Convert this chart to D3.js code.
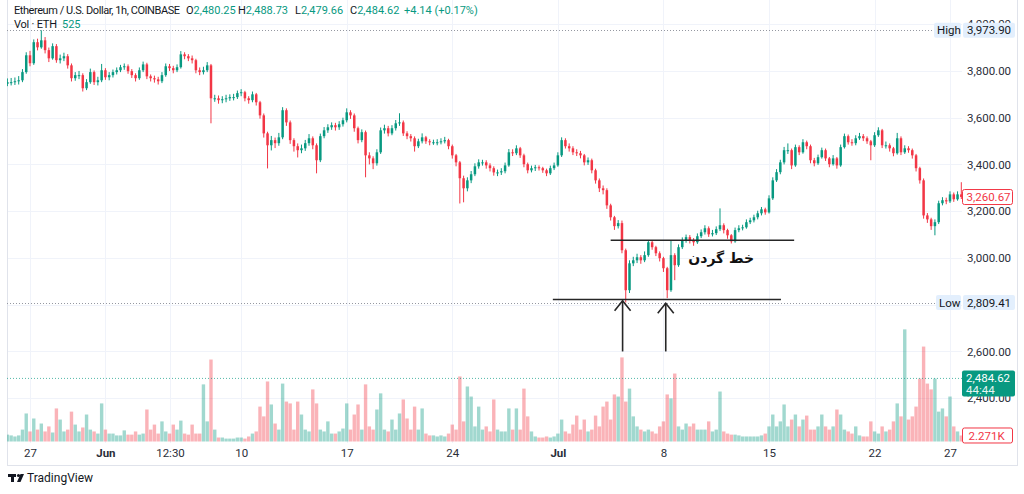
<!DOCTYPE html>
<html><head><meta charset="utf-8">
<script src="https://cdn.jsdelivr.net/npm/d3@7"></script>
<style>
body{margin:0;background:#fff;}
svg{display:block;font-family:Roboto,"Open Sans","DejaVu Sans",sans-serif;}
</style>
</head><body>
<svg id="c" width="1024" height="494"></svg>
<script>
// ---------- DATA (6-hour candles) ----------
const startTime = "2024-05-25T12:00";
const stepHours = 6;
const firstOpen = 3745;
const closes = [3752,3752,3756,3760,3795,3867,3833,3923,3901,3931,
3889,3854,3906,3846,3854,3863,3824,3769,3782,3782,
3726,3752,3795,3752,3760,3803,3773,3782,3795,3803,
3816,3820,3799,3782,3769,3803,3828,3777,3769,3764,
3756,3782,3820,3812,3803,3816,3871,3863,3854,3846,
3803,3795,3803,3824,3683,3683,3675,3679,3683,3688,
3688,3705,3709,3683,3675,3700,3666,3610,3533,3482,
3504,3491,3516,3632,3580,3504,3478,3461,3469,3491,
3512,3482,3418,3521,3546,3559,3568,3559,3572,3589,
3623,3610,3555,3504,3538,3439,3426,3405,3452,3546,
3555,3533,3555,3576,3580,3533,3521,3512,3478,3499,
3516,3499,3495,3495,3495,3499,3504,3478,3439,3409,
3341,3298,3332,3358,3392,3409,3409,3396,3384,3366,
3366,3371,3396,3452,3448,3469,3439,3401,3375,3384,
3388,3384,3375,3362,3384,3396,3439,3504,3478,3469,
3452,3448,3439,3409,3418,3375,3332,3298,3290,3225,
3174,3136,3149,3033,2862,2977,2990,3003,2990,3012,
3067,3046,3020,2999,2956,2862,3012,2969,3046,3076,
3089,3076,3067,3093,3110,3127,3101,3106,3123,3140,
3119,3097,3071,3119,3127,3131,3153,3161,3174,3191,
3208,3195,3255,3332,3367,3409,3461,3461,3396,3474,
3452,3495,3478,3418,3405,3431,3461,3426,3401,3426,
3396,3474,3521,3495,3491,3512,3521,3512,3499,3482,
3525,3546,3482,3482,3469,3448,3512,3452,3469,3461,
3439,3384,3332,3182,3165,3136,3153,3234,3247,3242,
3272,3251,3272,3261];
const highs = [3768,3770,3772,3778,3808,3880,3886,3935,3938,3974,
3945,3900,3918,3915,3870,3878,3872,3832,3795,3800,
3790,3765,3810,3802,3775,3830,3812,3795,3806,3815,
3826,3832,3828,3808,3790,3815,3840,3835,3785,3780,
3775,3795,3832,3830,3822,3828,3885,3880,3872,3866,
3852,3815,3818,3838,3830,3698,3695,3692,3698,3700,
3702,3716,3722,3715,3692,3712,3706,3672,3618,3540,
3522,3515,3535,3645,3640,3588,3512,3490,3485,3505,
3530,3520,3490,3532,3560,3572,3580,3578,3585,3600,
3640,3632,3618,3562,3550,3545,3452,3435,3465,3558,
3570,3565,3568,3590,3619,3588,3542,3530,3520,3510,
3533,3522,3508,3506,3508,3512,3518,3510,3485,3445,
3415,3352,3345,3372,3405,3422,3420,3418,3405,3392,
3378,3384,3408,3466,3465,3482,3475,3446,3408,3395,
3398,3396,3390,3382,3395,3408,3452,3516,3512,3490,
3478,3465,3458,3445,3430,3425,3382,3340,3310,3298,
3232,3180,3162,3160,3040,2990,3005,3018,3012,3028,
3076,3075,3052,3028,3005,2962,3076,3020,3058,3088,
3100,3098,3085,3105,3122,3140,3135,3120,3135,3212,
3148,3125,3102,3130,3140,3142,3165,3172,3185,3202,
3218,3215,3268,3345,3380,3420,3475,3490,3468,3485,
3482,3508,3502,3485,3428,3442,3472,3468,3432,3440,
3432,3485,3532,3528,3508,3525,3535,3530,3520,3505,
3538,3559,3552,3498,3490,3475,3535,3520,3482,3478,
3468,3445,3390,3340,3192,3172,3165,3245,3260,3258,
3285,3280,3285,3324];
const lows = [3735,3738,3740,3742,3752,3788,3820,3826,3888,3895,
3875,3838,3848,3835,3832,3842,3810,3755,3758,3765,
3712,3718,3745,3740,3738,3752,3762,3760,3772,3785,
3795,3805,3788,3770,3755,3762,3795,3765,3755,3750,
3742,3748,3775,3800,3790,3795,3810,3850,3842,3832,
3790,3782,3785,3795,3576,3668,3660,3662,3666,3672,
3674,3680,3692,3670,3660,3666,3652,3596,3515,3383,
3460,3470,3480,3508,3565,3488,3455,3430,3448,3458,
3480,3465,3362,3410,3512,3535,3548,3545,3548,3562,
3580,3595,3540,3490,3495,3345,3400,3380,3395,3445,
3532,3520,3525,3545,3565,3522,3508,3498,3455,3470,
3490,3488,3482,3484,3482,3486,3490,3465,3425,3392,
3233,3238,3285,3320,3350,3382,3395,3382,3370,3352,
3350,3355,3362,3390,3436,3440,3428,3388,3362,3366,
3372,3374,3364,3350,3355,3376,3390,3432,3468,3455,
3440,3436,3426,3396,3398,3362,3318,3282,3272,3210,
3160,3120,3126,3020,2809.41,2850,2965,2978,2975,2982,
3005,3035,3008,2985,2940,2828,2855,2905,2962,3038,
3065,3062,3052,3060,3085,3100,3090,3092,3098,3115,
3105,3082,3062,3065,3110,3118,3125,3145,3152,3165,
3182,3185,3190,3248,3325,3358,3400,3445,3380,3390,
3440,3446,3465,3405,3392,3398,3425,3415,3388,3395,
3382,3390,3468,3485,3480,3482,3505,3500,3488,3418,
3475,3518,3470,3468,3455,3435,3442,3440,3445,3450,
3425,3370,3318,3168,3150,3120,3097,3145,3225,3230,
3235,3240,3245,3252];
// volume, thousands of ETH
const volumesK = [2.6,2.3,1.9,2.3,4.5,10.6,3.8,8.7,4.5,6.8,
3.8,5.7,3.4,12.5,8.3,3.8,4.5,11.3,6.4,3.8,
5.3,10.2,4.5,3.8,3.0,14.4,4.5,3.0,3.0,2.3,
2.3,4.2,2.6,2.6,3.8,2.6,3.0,12.1,4.5,6.4,
3.0,7.6,3.8,3.0,6.4,4.5,7.9,3.0,2.6,6.4,
3.0,3.0,21.6,7.6,31.0,4.5,1.5,1.5,1.1,1.1,
1.1,1.5,1.5,1.1,1.9,3.0,3.8,13.2,9.5,22.7,
14.0,6.8,4.5,21.9,15.1,14.4,4.5,15.1,10.2,4.5,
3.8,19.7,14.4,4.5,3.8,7.6,3.0,3.0,3.8,4.9,
14.4,4.5,10.2,14.0,4.5,21.6,5.7,4.5,12.1,18.2,
4.5,3.8,8.3,4.5,10.6,15.9,8.7,4.5,13.2,4.5,
12.5,3.0,2.3,2.3,1.9,2.3,1.9,3.0,6.4,4.5,
24.6,7.6,20.8,17.0,5.7,13.2,4.5,5.7,3.8,15.9,
4.5,3.8,3.8,12.5,4.5,12.5,4.5,20.0,9.5,3.8,
1.9,1.5,1.5,1.9,1.5,1.9,3.0,8.3,3.8,3.0,
6.4,9.8,4.5,8.3,3.8,4.5,9.8,5.7,13.2,15.1,
8.3,17.8,17.0,31.8,15.1,20.0,9.5,5.7,4.5,3.8,
4.5,3.8,3.0,5.7,7.6,17.8,16.3,25.7,5.7,4.5,
6.8,5.7,6.8,4.5,4.5,4.5,7.6,3.8,4.5,18.9,
3.8,3.0,2.6,2.6,2.3,1.9,1.9,1.9,1.9,1.9,
2.3,3.0,5.7,10.2,5.7,7.6,14.0,5.7,8.3,10.2,
5.7,8.3,9.8,4.5,4.5,5.7,10.2,5.7,4.5,5.7,
12.1,10.2,4.5,3.8,3.0,5.7,2.3,1.9,1.9,7.6,
3.8,3.0,5.7,3.8,4.5,7.6,14.4,9.5,42.4,8.3,
9.5,13.2,23.8,35.9,21.9,19.7,23.8,11.3,12.5,9.5,
17.0,5.7,3.8,2.271];

const priceTicks = [2400,2600,2800,3000,3200,3400,3600,3800,4000];
const hiddenPriceLabels = [2800];
const timeTickDates = ["2024-05-27T00:00","2024-06-01T00:00","2024-06-05T06:45","2024-06-10T00:00","2024-06-17T00:00","2024-06-24T00:00","2024-07-01T00:00","2024-07-08T00:00","2024-07-15T00:00","2024-07-22T00:00","2024-07-27T00:00"];
const timeTickLabels = ["27","Jun","12:30","10","17","24","Jul","8","15","22","27"];
const monthLabels = ["Jun","Jul"];

const headerTitle = "Ethereum / U.S. Dollar, 1h, COINBASE";
const ohlcKeys = ["O","H","L","C"];
const ohlcValues = ["2,480.25","2,488.73","2,479.66","2,484.62"];
const changeText = "+4.14 (+0.17%)";
const volTitle = "Vol · ETH";
const volValue = "525";

const highValue = 3973.90, lowValue = 2809.41, lastPrice = 3260.67;
const lastVolumeLabel = "2.271K";
const otherPrice = 2484.62, otherPriceLabel = "2,484.62", countdown = "44:44";

// annotations (in data space)
const necklineDates = ["2024-07-04T12:00","2024-07-16T16:00"], necklinePrice = 3076;
const supportDates = ["2024-06-30T16:00","2024-07-15T19:00"], supportPrice = 2822;
const arrowDates = ["2024-07-05T07:00","2024-07-08T03:40"], arrowTipPrices = [2817,2806], arrowBasePrice = 2600;
const noteText = "خط گردن", noteDate = "2024-07-11T20:00", notePrice = 3000;

// ---------- DRAW ----------
const UP="#089981", DN="#F23645", TXT="#131722", GRID="#f0f3fa";
const svg = d3.select("#c");
const parse = d3.utcParse("%Y-%m-%dT%H:%M");
const t0 = parse(startTime);
const candles = closes.map((c,i)=>({t:d3.utcHour.offset(t0,i*stepHours), o:i?closes[i-1]:firstOpen, c, h:highs[i], l:lows[i], v:volumesK[i]}));

const paneL=7, paneR=962, paneB=443;
const x = d3.scaleUtc().domain([parse("2024-05-27T00:00"), parse("2024-07-27T00:00")]).range([30,950]);
const y = d3.scaleLinear().domain([2400,4000]).range([398.2,24.2]);
const yv = d3.scaleLinear().domain([0,45]).range([441.5,322.5]);

svg.append("defs").append("clipPath").attr("id","pane").append("rect")
  .attr("x",paneL).attr("y",0).attr("width",paneR-paneL).attr("height",paneB);

// grid
const grid = svg.append("g").attr("clip-path","url(#pane)");
grid.selectAll(".hg").data(priceTicks).join("line")
  .attr("x1",paneL).attr("x2",paneR).attr("y1",d=>Math.round(y(d))+0.5).attr("y2",d=>Math.round(y(d))+0.5)
  .attr("stroke",GRID);
grid.selectAll(".vg").data(timeTickDates).join("line")
  .attr("x1",d=>Math.round(x(parse(d)))+0.5).attr("x2",d=>Math.round(x(parse(d)))+0.5).attr("y1",0).attr("y2",paneB)
  .attr("stroke",GRID);

// outer border
svg.append("rect").attr("x",7.5).attr("y",-1).attr("width",1010).attr("height",466.5)
  .attr("fill","none").attr("stroke","#e0e3eb");

const pane = svg.append("g").attr("clip-path","url(#pane)");

// volume
pane.selectAll(".vol").data(candles).join("rect")
  .attr("x",d=>x(d.t)-1.7).attr("width",3.4)
  .attr("y",d=>yv(d.v)).attr("height",d=>yv(0)-yv(d.v))
  .attr("fill",d=>d.c>=d.o?UP:DN).attr("fill-opacity",0.38);

// other-price dotted line
pane.append("line").attr("x1",paneL).attr("x2",paneR).attr("y1",y(otherPrice)).attr("y2",y(otherPrice))
  .attr("stroke",UP).attr("stroke-opacity",0.7).attr("stroke-dasharray","1,2");
// high/low dotted lines
[[highValue,935],[lowValue,937]].forEach(([v,end])=>{
  pane.append("line").attr("x1",paneL).attr("x2",end).attr("y1",Math.round(y(v))+0.5).attr("y2",Math.round(y(v))+0.5)
    .attr("stroke","#9598a1").attr("stroke-dasharray","1,2");
});

// candles
const cg = pane.append("g");
cg.selectAll(".wick").data(candles).join("line")
  .attr("x1",d=>x(d.t)).attr("x2",d=>x(d.t)).attr("y1",d=>y(d.h)).attr("y2",d=>y(d.l))
  .attr("stroke",d=>d.c>=d.o?UP:DN).attr("stroke-width",1);
cg.selectAll(".body").data(candles).join("rect")
  .attr("x",d=>x(d.t)-1.25).attr("width",2.5)
  .attr("y",d=>y(Math.max(d.o,d.c))).attr("height",d=>Math.max(1,Math.abs(y(d.o)-y(d.c))))
  .attr("fill",d=>d.c>=d.o?UP:DN);

// annotations
const ann = svg.append("g").attr("stroke","#262626").attr("stroke-width",1.6).attr("fill","none");
ann.append("line").attr("x1",x(parse(necklineDates[0]))).attr("x2",x(parse(necklineDates[1])))
  .attr("y1",y(necklinePrice)).attr("y2",y(necklinePrice));
ann.append("line").attr("x1",x(parse(supportDates[0]))).attr("x2",x(parse(supportDates[1])))
  .attr("y1",y(supportPrice)).attr("y2",y(supportPrice));
arrowDates.forEach((d,i)=>{
  const ax = x(parse(d)), tip = y(arrowTipPrices[i]), base = y(arrowBasePrice);
  ann.append("line").attr("x1",ax).attr("x2",ax).attr("y1",tip).attr("y2",base);
  ann.append("polyline").attr("points",`${ax-8},${tip+10} ${ax},${tip} ${ax+8},${tip+10}`);
});
svg.append("text").attr("x",x(parse(noteDate))).attr("y",y(notePrice)).attr("dy","0.35em")
  .attr("text-anchor","middle").attr("font-family","'DejaVu Sans',sans-serif").attr("font-weight","bold")
  .attr("font-size",14).attr("fill","#111").text(noteText);

// price axis
const ya = svg.append("g").attr("transform",`translate(${paneR},0)`)
  .call(d3.axisRight(y).tickValues(priceTicks.filter(p=>!hiddenPriceLabels.includes(p)))
    .tickSize(0).tickPadding(5).tickFormat(d3.format(",.2f")));
ya.select(".domain").remove();
ya.selectAll("text").attr("font-size",11.5).attr("fill","#2a2e39").attr("font-family","Roboto,sans-serif");

// time axis
const xa = svg.append("g").attr("transform",`translate(0,${paneB+4})`)
  .call(d3.axisBottom(x).tickValues(timeTickDates.map(parse)).tickSize(0).tickPadding(2)
    .tickFormat((d,i)=>timeTickLabels[i]));
xa.select(".domain").remove();
xa.selectAll("text").attr("font-size",11.5).attr("fill","#2a2e39").attr("font-family","Roboto,sans-serif")
  .attr("font-weight",(d,i)=>monthLabels.includes(timeTickLabels[i])?"bold":"normal");

// price labels on the scale
function tag(yPos, txt, opts){
  const g = svg.append("g");
  g.append("rect").attr("x",opts.x).attr("y",yPos-7.5).attr("width",opts.w).attr("height",15).attr("rx",2)
    .attr("fill",opts.fill).attr("stroke",opts.stroke||"none");
  g.append("text").attr("x",opts.x+opts.pad).attr("y",yPos).attr("dy","0.35em").attr("font-size",11.5)
    .attr("fill",opts.color).text(txt);
}
tag(y(highValue),"High",{x:934,w:27,pad:3,fill:"#e3effd",color:TXT});
tag(y(highValue),d3.format(",.2f")(highValue),{x:963,w:52,pad:4,fill:"#e3effd",color:TXT});
tag(y(lowValue),"Low",{x:936,w:25,pad:3,fill:"#e3effd",color:TXT});
tag(y(lowValue),d3.format(",.2f")(lowValue),{x:963,w:52,pad:4,fill:"#e3effd",color:TXT});
tag(y(lastPrice),d3.format(",.2f")(lastPrice),{x:962.5,w:50,pad:4,fill:"#fff",stroke:DN,color:DN});
tag(yv(volumesK[volumesK.length-1]),lastVolumeLabel,{x:962.5,w:50,pad:6,fill:"#fff",stroke:DN,color:DN});
const og = svg.append("g");
og.append("rect").attr("x",962).attr("y",y(otherPrice)-8).attr("width",53).attr("height",26).attr("rx",2).attr("fill",UP);
og.append("text").attr("x",966).attr("y",y(otherPrice)).attr("dy","0.35em").attr("font-size",11.5).attr("fill","#fff").text(otherPriceLabel);
og.append("text").attr("x",966).attr("y",y(otherPrice)+12).attr("dy","0.35em").attr("font-size",11.5).attr("fill","#e6f5f2").text(countdown);

// header (positions follow the reference layout)
const hdr = svg.append("g").attr("font-size",11).attr("font-family","Roboto,sans-serif");
hdr.append("text").attr("x",14).attr("y",14).attr("fill",TXT)
  .attr("textLength",166).attr("lengthAdjust","spacing").text(headerTitle);
const ohlcX = [186,238,295,350];
ohlcKeys.forEach((k,i)=>{
  const t = hdr.append("text").attr("x",ohlcX[i]).attr("y",14);
  t.append("tspan").attr("fill",TXT).text(k);
  t.append("tspan").attr("fill",UP).text(ohlcValues[i]);
});
hdr.append("text").attr("x",404).attr("y",14).attr("fill",UP).text(changeText);
hdr.append("text").attr("x",14).attr("y",28).attr("fill",TXT)
  .attr("textLength",43).attr("lengthAdjust","spacing").text(volTitle);
hdr.append("text").attr("x",62).attr("y",28).attr("fill",UP).text(volValue);

// TradingView logo
const lg = svg.append("g").attr("fill",TXT);
lg.append("rect").attr("x",8).attr("y",474).attr("width",8).attr("height",3);
lg.append("rect").attr("x",11).attr("y",474).attr("width",3).attr("height",8);
lg.append("circle").attr("cx",18.5).attr("cy",475.5).attr("r",1.6);
lg.append("polygon").attr("points","20.5,474 24,474 20.5,482 17,482");
svg.append("text").attr("x",27).attr("y",482).attr("font-size",12).attr("fill",TXT).text("TradingView");
</script>
</body></html>
